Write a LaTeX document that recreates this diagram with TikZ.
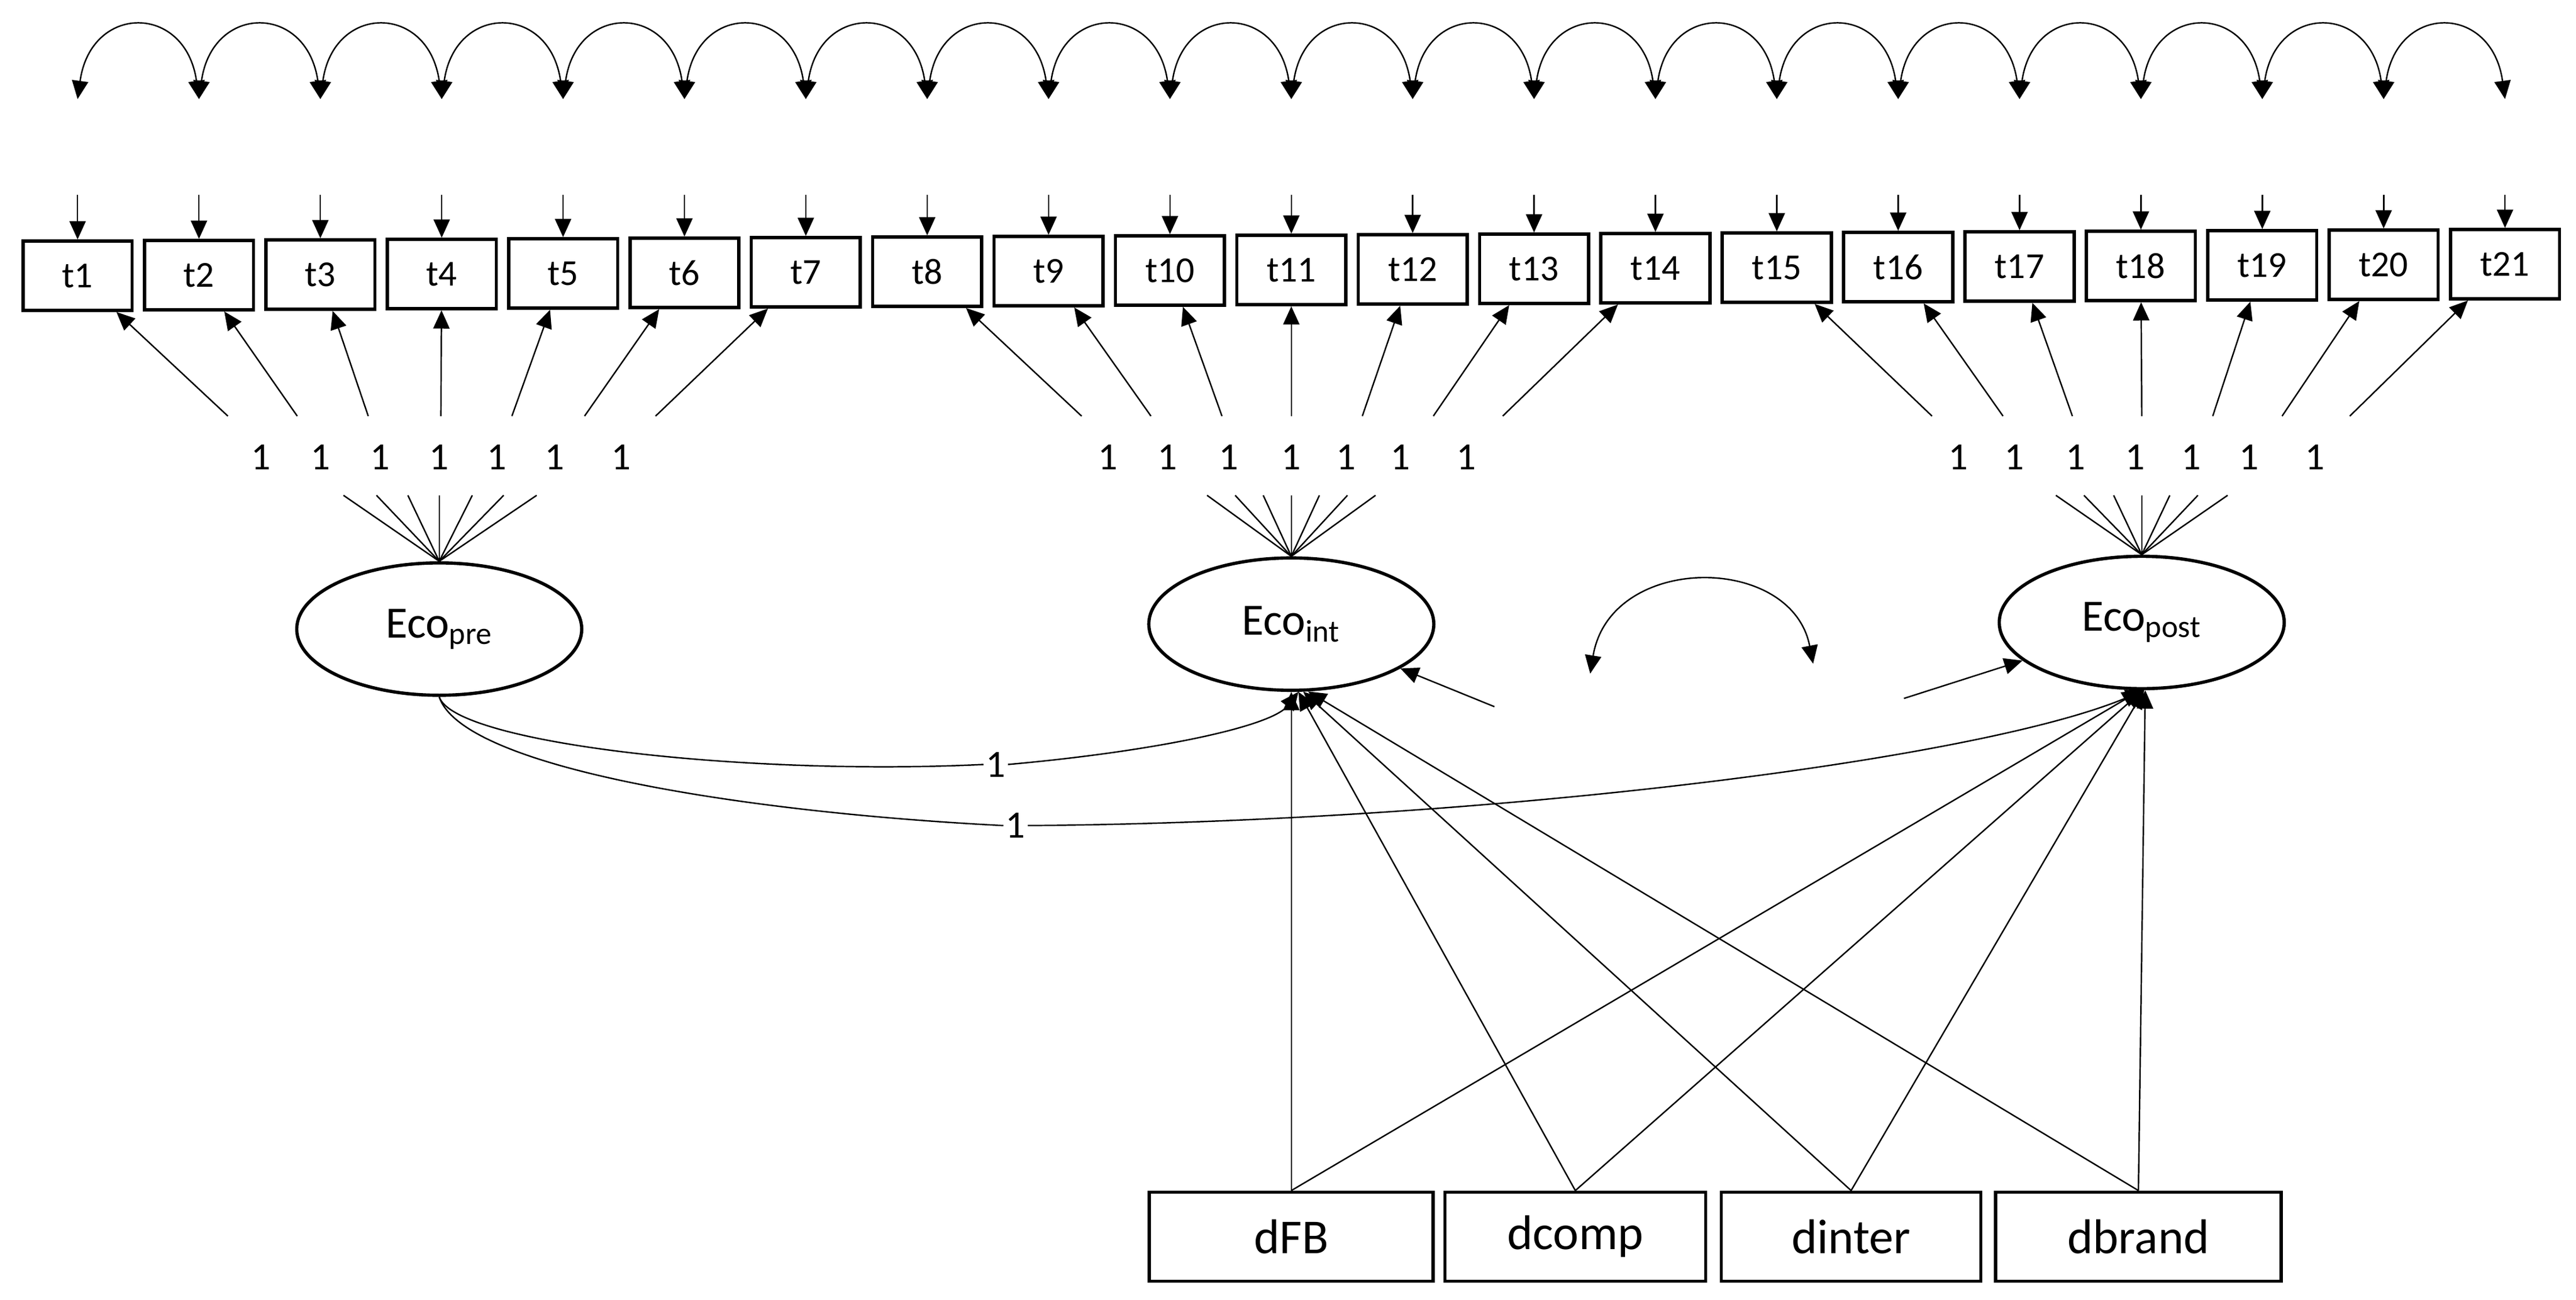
\documentclass[tikz,border=0pt]{standalone}
\usepackage{fontspec}
\setmainfont{Carlito}
\usetikzlibrary{arrows.meta,calc,shapes.geometric}
\begin{document}
\begin{tikzpicture}[x=0.02857cm,y=-0.02857cm,
  tip/.style={-{Triangle[length=9pt,width=8pt]}},
  dtip/.style={{Triangle[length=9pt,width=8pt]}-{Triangle[length=9pt,width=8pt]}},
  thin line/.style={line width=0.7pt},
  obs/.style={draw,line width=1.6pt,minimum width=1.886cm,minimum height=1.2cm,font=\fontsize{18}{20}\selectfont,inner sep=0pt},
  lat/.style={draw,ellipse,line width=1.6pt,minimum width=4.93cm,minimum height=2.29cm,font=\fontsize{22}{24}\selectfont,inner sep=0pt},
  cov/.style={draw,line width=1.6pt,minimum height=1.54cm,font=\fontsize{24}{26}\selectfont,inner sep=0pt},
  one/.style={font=\fontsize{19}{21}\selectfont,inner sep=1pt}]
\useasboundingbox (0,0) rectangle (1560,787);
% observed
\foreach \i in {1,...,21}{
  \pgfmathsetmacro{\xx}{47+73.5*(\i-1)}
  \pgfmathsetmacro{\yy}{167-0.35*(\i-1)}
  \node[obs] (t\i) at (\xx,\yy) {t\i};
  \coordinate (e\i) at (\xx,118);
  \coordinate (c\i) at (\xx,60);
  \draw[tip,thin line] (e\i) -- (t\i);
}
\foreach \i [evaluate=\i as \j using int(\i+1)] in {1,...,20}{
  \draw[dtip,thin line] (c\i) .. controls ($(c\i)+(8,-58)$) and ($(c\j)+(-8,-58)$) .. (c\j);
}
% latents
\node[lat] (EP) at (266,381) {Eco\textsubscript{pre}};
\node[lat] (EI) at (782,378) {Eco\textsubscript{int}};
\node[lat] (EO) at (1297,377) {Eco\textsubscript{post}};
% loadings
\def\grp#1#2#3{%
  \foreach \s/\l/\f [count=\k from #2] in {#3}{
    \coordinate (s\k) at (\s,252);
    \draw[tip,thin line] (s\k) -- (t\k);
    \node[one] (n\k) at (\l,277) {1};
    \coordinate (f\k) at (\f,300);
    \draw[thin line] (f\k) -- (#1.north);
  }}
\grp{EP}{1}{138/158/208,180/194/228,223/230/247,267/266/266,310/301/286,354/336/305,397/376/325}
\grp{EI}{8}{655/671/731,697/707/748,740/744/765,782/782/782,825/815/799,868/848/816,910/888/833}
\grp{EO}{15}{1170/1186/1245,1213/1220/1262,1255/1257/1280,1297/1293/1297,1340/1327/1314,1382/1362/1331,1423/1402/1349}
% covariates
\node[cov,minimum width=4.91cm] (dFB) at (782,749) {dFB};
\node[cov,minimum width=4.51cm] (dcomp) at (954,749) {dcomp};
\node[cov,minimum width=4.49cm] (dinter) at (1121,749) {dinter};
\node[cov,minimum width=4.94cm] (dbrand) at (1295,749) {dbrand};
\foreach \b/\a/\c in {dFB/-90/-91,dcomp/-84/-89,dinter/-80/-88,dbrand/-76/-87}{
  \draw[tip,thin line] (\b.north) -- (EI.\a);
  \draw[tip,thin line] (\b.north) -- (EO.\c);
}
% paths from pre
\node[one] (L1) at (603,463) {1};
\node[one] (L2) at (615,500) {1};
\draw[thin line] (EP.south) .. controls (275,450) and (450,470) .. (L1.west);
\draw[tip,thin line] (L1.east) .. controls (700,455) and (770,440) .. (EI.-84);
\draw[thin line] (EP.south) .. controls (280,465) and (450,492) .. (L2.west);
\draw[tip,thin line] (L2.east) .. controls (900,498) and (1200,460) .. (EO.-88);
% disturbances
\coordinate (z1) at (905,428);
\coordinate (z2) at (1153,423);
\draw[tip,thin line] (z1) -- (EI);
\draw[tip,thin line] (z2) -- (EO);
\coordinate (ca) at (963,408);
\coordinate (cb) at (1098,402);
\draw[dtip,thin line] (ca) .. controls (975,335) and (1085,335) .. (cb);
\end{tikzpicture}
\end{document}
